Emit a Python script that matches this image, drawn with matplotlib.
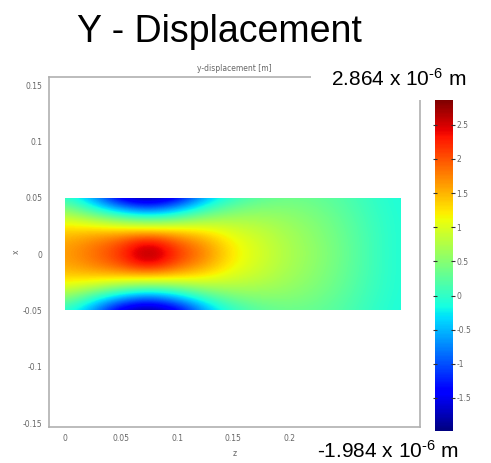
import numpy as np
import matplotlib
matplotlib.use("Agg")
import matplotlib.pyplot as plt
from matplotlib.patches import Rectangle
from matplotlib.ticker import FixedLocator, FixedFormatter

plt.rcParams['mathtext.fontset'] = 'custom'
plt.rcParams['mathtext.rm'] = 'Liberation Sans'
plt.rcParams['mathtext.it'] = 'Liberation Sans:italic'

# ---- data (y-displacement, 1e-6 m), rows: x from +0.05 to -0.05, cols: z 0..0.3 ----
z_nodes = [0.0, 0.025, 0.05, 0.075, 0.1, 0.125, 0.15, 0.175, 0.2, 0.225, 0.25, 0.275, 0.3]
x_nodes = [0.05, 0.04, 0.03, 0.02, 0.01, 0.0, -0.01, -0.02, -0.03, -0.04, -0.05]
row_p05 = [0.00, -0.60, -1.70, -1.98, -1.60, -0.55, 0.00, 0.25, 0.35, 0.30, 0.18, 0.00, -0.12]
row_p04 = [0.50, -0.05, -0.65, -1.05, -0.60, 0.00, 0.35, 0.48, 0.48, 0.38, 0.22, 0.03, -0.11]
row_p03 = [1.00, 0.75, 0.45, 0.30, 0.40, 0.65, 0.72, 0.68, 0.58, 0.45, 0.27, 0.05, -0.10]
row_p02 = [1.35, 1.40, 1.40, 1.40, 1.35, 1.22, 0.98, 0.84, 0.66, 0.50, 0.30, 0.07, -0.10]
row_p01 = [1.55, 1.75, 2.00, 2.50, 1.95, 1.60, 1.15, 0.92, 0.70, 0.53, 0.32, 0.08, -0.10]
row_000 = [1.60, 1.85, 2.15, 2.86, 2.15, 1.75, 1.20, 0.95, 0.72, 0.55, 0.33, 0.08, -0.10]
row_m01 = [1.55, 1.75, 2.00, 2.50, 1.95, 1.60, 1.15, 0.92, 0.70, 0.53, 0.32, 0.08, -0.10]
row_m02 = [1.35, 1.40, 1.40, 1.40, 1.35, 1.22, 0.98, 0.84, 0.66, 0.50, 0.30, 0.07, -0.10]
row_m03 = [1.00, 0.75, 0.45, 0.30, 0.40, 0.65, 0.72, 0.68, 0.58, 0.45, 0.27, 0.05, -0.10]
row_m04 = [0.50, -0.05, -0.65, -1.05, -0.60, 0.00, 0.35, 0.48, 0.48, 0.38, 0.22, 0.03, -0.11]
row_m05 = [0.00, -0.60, -1.70, -1.98, -1.60, -0.55, 0.00, 0.25, 0.35, 0.30, 0.18, 0.00, -0.12]
vmin, vmax = -1.984, 2.864
x_ticks = [0, 0.05, 0.1, 0.15, 0.2]
x_tick_labels = ['0', '0.05', '0.1', '0.15', '0.2']
y_ticks = [-0.15, -0.1, -0.05, 0, 0.05, 0.1, 0.15]
y_tick_labels = ['-0.15', '-0.1', '-0.05', '0', '0.05', '0.1', '0.15']
cb_ticks = [-1.5, -1, -0.5, 0, 0.5, 1, 1.5, 2, 2.5]
cb_tick_labels = ['-1.5', '-1', '-0.5', '0', '0.5', '1', '1.5', '2', '2.5']

field = np.array([row_p05, row_p04, row_p03, row_p02, row_p01, row_000,
                  row_m01, row_m02, row_m03, row_m04, row_m05])

W, H = 491, 463
fig = plt.figure(figsize=(W / 100, H / 100), dpi=100)

ax = fig.add_axes([49 / W, 1 - 427 / H, (420 - 49) / W, (427 - 77) / H])
dz = z_nodes[1] - z_nodes[0]
dx = x_nodes[0] - x_nodes[1]
im = ax.imshow(field, cmap='jet', vmin=vmin, vmax=vmax, origin='upper',
               extent=(z_nodes[0] - dz / 2, z_nodes[-1] + dz / 2,
                       x_nodes[-1] - dx / 2, x_nodes[0] + dx / 2),
               interpolation='bicubic', aspect='auto')
clip = Rectangle((z_nodes[0], x_nodes[-1]), z_nodes[-1] - z_nodes[0],
                 x_nodes[0] - x_nodes[-1], transform=ax.transData,
                 facecolor='none', edgecolor='none')
ax.add_patch(clip)
im.set_clip_path(clip)

ax.set_xlim(-0.01429, 0.31696)
ax.set_ylim(-0.1535, 0.1571)
ax.set_xticks(x_ticks)
ax.set_xticklabels(x_tick_labels)
ax.set_yticks(y_ticks)
ax.set_yticklabels(y_tick_labels)
ax.tick_params(length=0, labelsize=5.5, labelcolor='#666666', pad=5)
for s in ax.spines.values():
    s.set_color('#b0b0b0')
    s.set_linewidth(1.2)
ax.set_xlabel('z', fontsize=5.5, color='#666666', labelpad=4)
ax.set_ylabel('x', fontsize=5.5, color='#666666', labelpad=1, rotation=90)
ax.set_title('y-displacement [m]', fontsize=5.5, color='#666666', pad=4)

cax = fig.add_axes([435 / W, 1 - 431 / H, 18 / W, 331 / H])
cb = fig.colorbar(im, cax=cax)
cb.outline.set_visible(False)
cb.ax.yaxis.set_major_locator(FixedLocator(cb_ticks))
cb.ax.yaxis.set_major_formatter(FixedFormatter(cb_tick_labels))
cb.ax.yaxis.set_ticks_position('both')
cb.ax.tick_params(which='both', direction='inout', length=3, width=0.8,
                  color='#333333', labelsize=5.5, labelcolor='#666666',
                  left=True, right=True, labelleft=False, labelright=True, pad=1)
cb.ax.minorticks_off()

# white mask behind the annotation (hides part of the frame)
fig.patches.append(Rectangle((311 / W, 1 - 100 / H), (W - 311) / W, 40 / H,
                             transform=fig.transFigure, facecolor='white',
                             edgecolor='none', zorder=5))

fig.text(219 / W, 1 - 42 / H, 'Y - Displacement', ha='center', va='baseline',
         fontsize=27, family='Liberation Sans', color='black', zorder=6)
fig.text(331 / W, 1 - 86 / H, r'2.864 x 10$^{\text{-6}}$ m', ha='left',
         va='baseline', fontsize=15, family='Liberation Sans', color='black', zorder=6)
fig.text(317 / W, 1 - 458 / H, r'-1.984 x 10$^{\text{-6}}$ m', ha='left',
         va='baseline', fontsize=15, family='Liberation Sans', color='black', zorder=6)

fig.savefig('out.png', dpi=100)
